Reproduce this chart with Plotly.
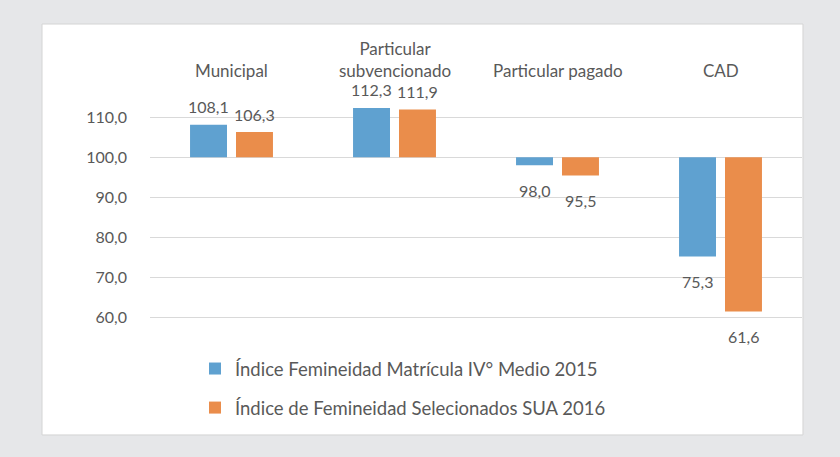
import plotly.graph_objects as go

# 데이터
categories = ["Municipal", "Particular subvencionado", "Particular pagado", "CAD"]
category_labels = ["Municipal", "Particular<br>subvencionado", "Particular pagado", "CAD"]
matricula_2015 = [108.1, 112.3, 98.0, 75.3]
sua_2016 = [106.3, 111.9, 95.5, 61.6]
series_names = ["Índice Femineidad Matrícula IV° Medio 2015",
                "Índice de Femineidad Selecionados SUA 2016"]
tick_values = [60, 70, 80, 90, 100, 110]
base_value = 100

BLUE = "#5fa1d0"
ORANGE = "#ea8d4b"
TXT = "#595959"
FONT = "Lato, Open Sans, sans-serif"


def fmt(v):
    return f"{v:.1f}".replace(".", ",")


fig = go.Figure()
for name, vals, color, grp in [(series_names[0], matricula_2015, BLUE, "a"),
                               (series_names[1], sua_2016, ORANGE, "b")]:
    fig.add_trace(go.Bar(
        x=categories, y=[v - base_value for v in vals], base=base_value,
        name=name, marker=dict(color=color, line=dict(width=0)),
        legendgroup=grp, hoverinfo="skip"
    ))

# 데이터 라벨 (막대 위/아래)
annotations = []
for vals, dx in [(matricula_2015, -23), (sua_2016, 23)]:
    for cat, v in zip(categories, vals):
        above = v >= base_value
        annotations.append(dict(
            x=cat, y=v, xref="x", yref="y", text=fmt(v), showarrow=False,
            xshift=dx, yshift=18 if above else -25,
            font=dict(size=16, color=TXT, family=FONT)
        ))

# 카테고리 라벨 (상단)
for cat, lab in zip(categories, category_labels):
    annotations.append(dict(
        x=cat, y=118.5, xref="x", yref="y", text=lab, showarrow=False,
        yanchor="bottom", font=dict(size=17, color=TXT, family=FONT)
    ))

fig.update_layout(
    width=840, height=457,
    margin=dict(l=150, r=38, t=61, b=107),
    paper_bgcolor="#e6e7e9", plot_bgcolor="white",
    separators=", ",
    barmode="group", bargap=0.436, bargroupgap=0.196,
    font=dict(family=FONT, color=TXT, size=15),
    xaxis=dict(showticklabels=False, showgrid=False, zeroline=False, showline=False),
    yaxis=dict(range=[52, 124], tickvals=tick_values, tickformat=".1f",
               showgrid=True, gridcolor="#d9d9d9", gridwidth=1,
               zeroline=False, showline=False, ticks="",
               ticklabelstandoff=22, tickfont=dict(size=16, color=TXT)),
    showlegend=True,
    legend=dict(x=0.069, y=0.0, xanchor="left", yanchor="top",
                orientation="v", tracegroupgap=12,
                font=dict(size=18.5, color=TXT), bgcolor="rgba(0,0,0,0)"),
    annotations=annotations,
    shapes=[dict(type="rect", xref="paper", yref="paper",
                 x0=-0.1656, x1=1.0015, y0=-0.294, y1=1.128,
                 fillcolor="white", line=dict(color="#d4d4d4", width=1),
                 layer="below")]
)

fig.write_html("out.html", config={"displayModeBar": False},
               post_script="document.body.style.margin='0';"
                           "document.body.style.background='#e6e7e9';")
